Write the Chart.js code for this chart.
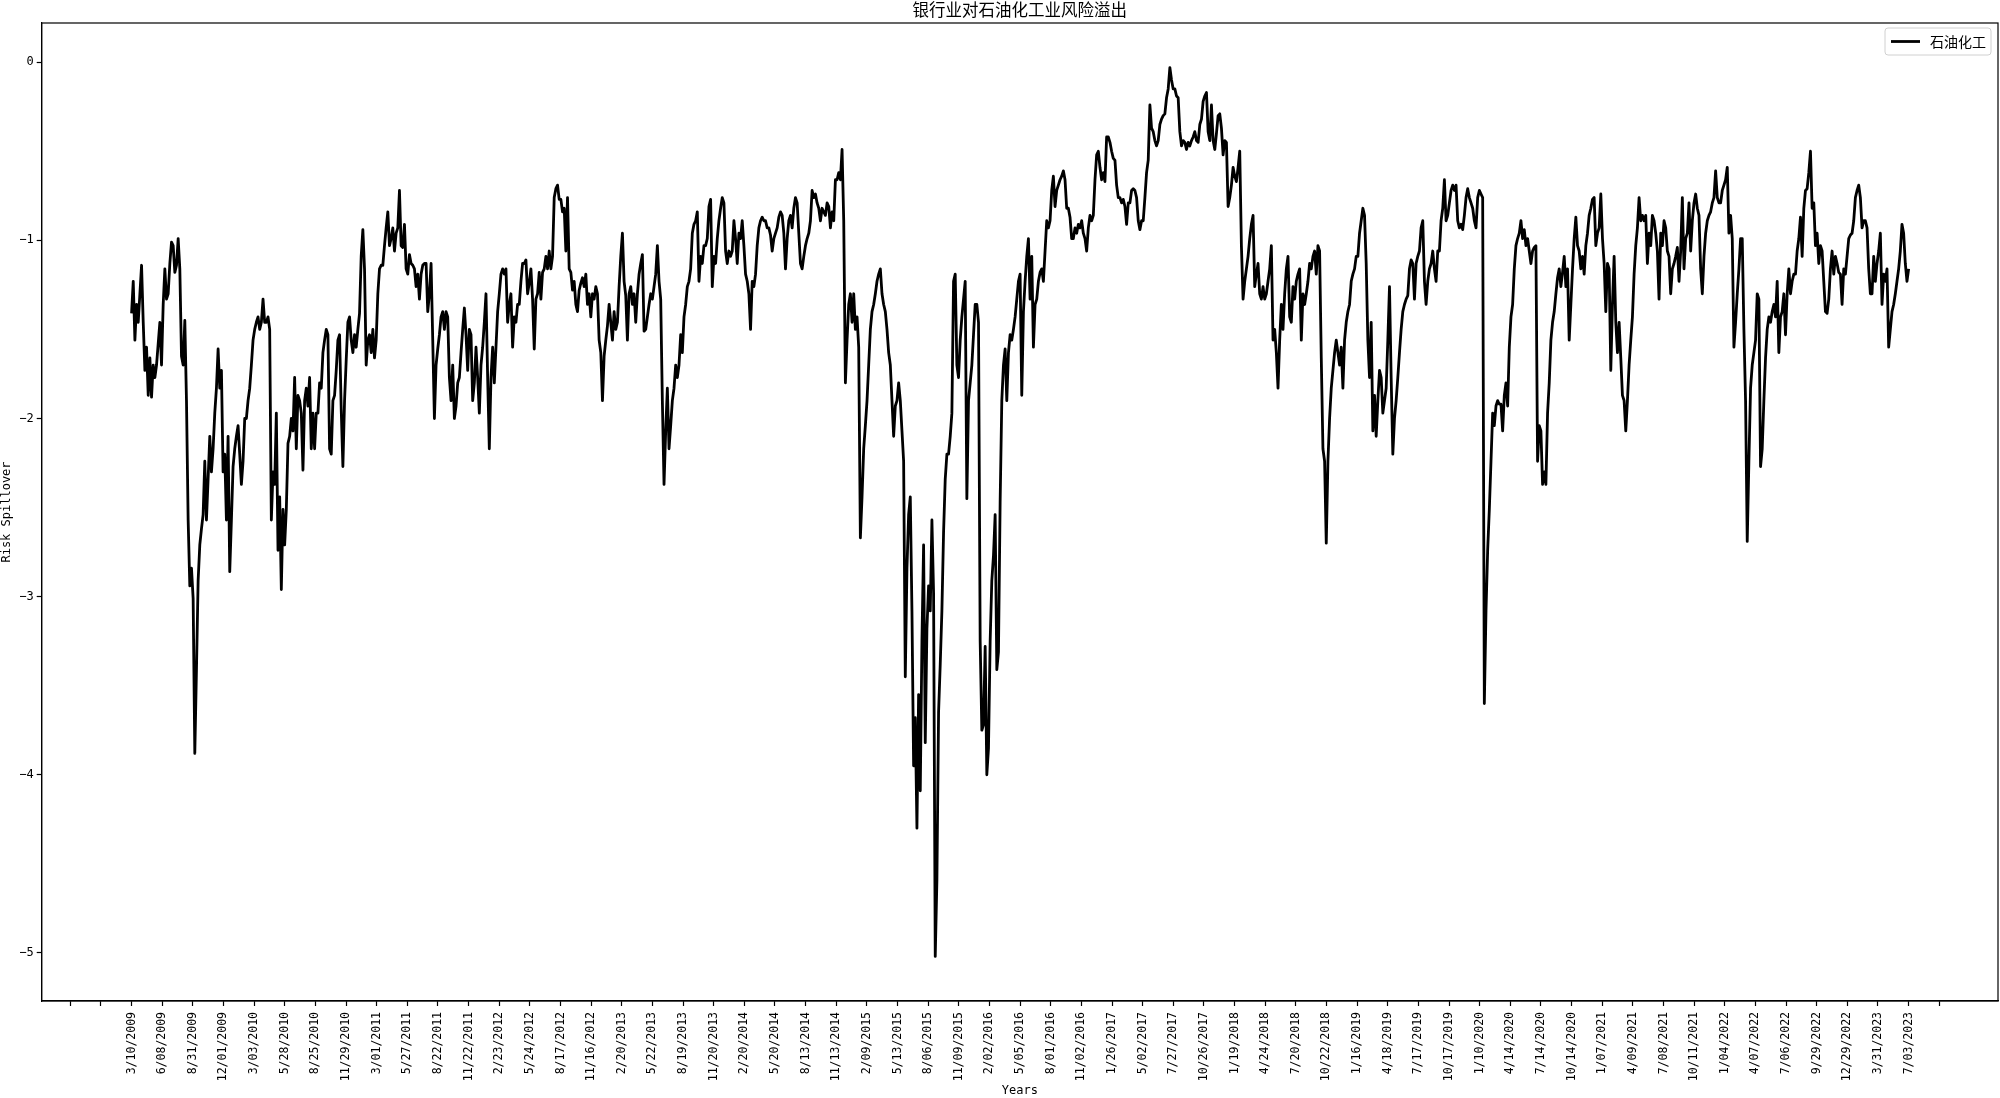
<!DOCTYPE html>
<html>
<head>
<meta charset="utf-8">
<script src="https://cdn.jsdelivr.net/npm/chart.js@4.4.1/dist/chart.umd.min.js"></script>
<style>
  html, body { margin: 0; padding: 0; background: #fff; }
  #wrap { width: 2000px; height: 1098px; }
</style>
</head>
<body>
<div id="wrap"><canvas id="chart" width="2000" height="1098"></canvas></div>
<script>
// --- texts ---
const CHART_TITLE = '银行业对石油化工业风险溢出';
const SERIES_NAME = '石油化工';
const X_TITLE = 'Years';
const Y_TITLE = 'Risk Spillover';

// --- tick labels (one label every 60 trading days) ---
const dateLabels = [
  '3/10/2009', '6/08/2009', '8/31/2009', '12/01/2009',
  '3/03/2010', '5/28/2010', '8/25/2010', '11/29/2010',
  '3/01/2011', '5/27/2011', '8/22/2011', '11/22/2011',
  '2/23/2012', '5/24/2012', '8/17/2012', '11/16/2012',
  '2/20/2013', '5/22/2013', '8/19/2013', '11/20/2013',
  '2/20/2014', '5/20/2014', '8/13/2014', '11/13/2014',
  '2/09/2015', '5/13/2015', '8/06/2015', '11/09/2015',
  '2/02/2016', '5/05/2016', '8/01/2016', '11/02/2016',
  '1/26/2017', '5/02/2017', '7/27/2017', '10/26/2017',
  '1/19/2018', '4/24/2018', '7/20/2018', '10/22/2018',
  '1/16/2019', '4/18/2019', '7/17/2019', '10/17/2019',
  '1/10/2020', '4/14/2020', '7/14/2020', '10/14/2020',
  '1/07/2021', '4/09/2021', '7/08/2021', '10/11/2021',
  '1/04/2022', '4/07/2022', '7/06/2022', '9/29/2022',
  '12/29/2022', '3/31/2023', '7/03/2023'
];
const LABEL_EVERY = 60;  // trading days between two labels
const LAST_DAY = 3480;   // index of the last observation (7/03/2023)
const yTicks = [0, -1, -2, -3, -4, -5];

// --- risk spillover (one reading every ~3 trading days) ---
const spill0910 = [
  -1.41,-1.23,-1.56,-1.36,-1.46,-1.30,-1.14,-1.46,-1.73,-1.60,
  -1.87,-1.66,-1.88,-1.70,-1.77,-1.70,-1.58,-1.46,-1.70,-1.36,
  -1.16,-1.33,-1.30,-1.13,-1.01,-1.03,-1.18,-1.14,-0.99,-1.16,
  -1.65,-1.70,-1.45,-1.90,-2.57,-2.94,-2.84,-3.01,-3.88,-3.41,
  -2.91,-2.71,-2.62,-2.54,-2.24,-2.57,-2.34,-2.10,-2.30,-2.17,
  -1.97,-1.83,-1.61,-1.83,-1.73,-2.30,-2.20,-2.57,-2.10,-2.86,
  -2.57,-2.27,-2.17,-2.10,-2.04,-2.20,-2.37,-2.24,-2.00,-2.00,
  -1.90,-1.83,-1.70,-1.56,-1.50,-1.46,-1.43,-1.50,-1.46,-1.33,
  -1.46,-1.46,-1.43,-1.50,-2.57,-2.30,-2.37,-1.97,-2.74,-2.44,
  -2.96,-2.51,-2.71,-2.51,-2.14,-2.10,-2.00,-2.07,-1.77,-2.17,
  -1.87,-1.90,-1.97,-2.29,-1.90,-1.83,-1.93,-1.77,-2.17,-1.97,
  -2.17,-1.97,-1.97,-1.80,-1.83,-1.63,-1.56,-1.50,-1.53,-2.17,
  -2.20,-1.90,-1.87,-1.73,-1.56,-1.53
];
const spill1012 = [
  -1.95,-2.27,-1.90,-1.67,-1.46,-1.43,-1.56,-1.63,-1.53,-1.60,
  -1.50,-1.41,-1.09,-0.94,-1.16,-1.70,-1.56,-1.53,-1.63,-1.50,
  -1.66,-1.56,-1.30,-1.16,-1.14,-1.14,-1.03,-0.93,-0.84,-1.03,
  -0.99,-0.93,-1.06,-0.96,-0.93,-0.72,-1.03,-1.04,-0.91,-1.16,
  -1.19,-1.08,-1.13,-1.14,-1.16,-1.26,-1.19,-1.33,-1.19,-1.14,
  -1.13,-1.13,-1.40,-1.30,-1.13,-1.56,-2.00,-1.70,-1.61,-1.53,
  -1.43,-1.40,-1.50,-1.40,-1.43,-1.77,-1.90,-1.70,-2.00,-1.93,
  -1.80,-1.77,-1.63,-1.50,-1.38,-1.53,-1.73,-1.50,-1.53,-1.90,
  -1.80,-1.60,-1.77,-1.97,-1.70,-1.60,-1.46,-1.30,-1.77,-2.17,
  -1.77,-1.60,-1.80,-1.60,-1.40,-1.30,-1.19,-1.16,-1.19,-1.16,
  -1.46,-1.36,-1.30,-1.60,-1.43,-1.46,-1.36,-1.36,-1.23,-1.13,
  -1.13,-1.11,-1.30,-1.24,-1.16,-1.33,-1.61,-1.33,-1.30,-1.18,
  -1.33,-1.18,-1.16,-1.09,-1.16,-1.06,-1.16,-1.09,-0.76,-0.71,
  -0.69,-0.77
];
const spill1214 = [
  -0.77,-0.84,-0.82,-1.06,-0.76,-1.16,-1.18,-1.28,-1.23,-1.36,
  -1.40,-1.28,-1.24,-1.21,-1.26,-1.19,-1.36,-1.30,-1.43,-1.30,
  -1.33,-1.26,-1.30,-1.56,-1.63,-1.90,-1.65,-1.56,-1.48,-1.36,
  -1.46,-1.56,-1.40,-1.50,-1.46,-1.26,-1.09,-0.96,-1.23,-1.31,
  -1.56,-1.30,-1.26,-1.36,-1.30,-1.46,-1.30,-1.19,-1.13,-1.08,
  -1.51,-1.50,-1.43,-1.36,-1.30,-1.33,-1.26,-1.19,-1.03,-1.23,
  -1.33,-1.90,-2.37,-2.07,-1.83,-2.17,-2.04,-1.90,-1.83,-1.70,
  -1.77,-1.70,-1.53,-1.63,-1.43,-1.36,-1.26,-1.23,-1.16,-0.96,
  -0.91,-0.89,-0.84,-1.23,-1.09,-1.13,-1.03,-1.03,-0.99,-0.81,
  -0.77,-1.26,-1.09,-1.13,-0.99,-0.89,-0.82,-0.76,-0.79,-1.06,
  -1.13,-1.06,-1.09,-1.06,-0.89,-0.99,-1.13,-0.96,-0.99,-0.89,
  -1.03,-1.19,-1.23,-1.30,-1.50,-1.23,-1.26,-1.19,-1.03,-0.93,
  -0.89,-0.87,-0.89,-0.89,-0.93,-0.93,-0.97,-1.06,-0.99,-0.96,
  -0.93,-0.87
];
const spill1416 = [
  -0.84,-0.86,-0.96,-1.16,-0.99,-0.89,-0.86,-0.93,-0.82,-0.76,
  -0.79,-0.96,-1.13,-1.16,-1.09,-1.03,-0.99,-0.96,-0.89,-0.72,
  -0.76,-0.74,-0.79,-0.82,-0.89,-0.82,-0.84,-0.86,-0.79,-0.81,
  -0.93,-0.84,-0.89,-0.66,-0.66,-0.62,-0.66,-0.49,-0.89,-1.80,
  -1.56,-1.36,-1.30,-1.46,-1.30,-1.50,-1.43,-1.60,-2.67,-2.44,
  -2.17,-2.04,-1.90,-1.70,-1.50,-1.40,-1.36,-1.30,-1.23,-1.19,
  -1.16,-1.30,-1.36,-1.40,-1.50,-1.63,-1.70,-1.90,-2.10,-1.93,
  -1.90,-1.80,-1.90,-2.07,-2.24,-3.45,-2.84,-2.54,-2.44,-3.08,
  -3.95,-3.68,-4.30,-3.55,-4.09,-3.25,-2.71,-3.82,-3.18,-2.94,
  -3.08,-2.57,-2.98,-5.02,-4.59,-3.65,-3.38,-3.08,-2.64,-2.34,
  -2.20,-2.20,-2.10,-1.97,-1.23,-1.19,-1.70,-1.77,-1.56,-1.43,
  -1.33,-1.23,-2.45,-1.90,-1.80,-1.70,-1.53,-1.36,-1.36,-1.46,
  -3.25,-3.75,-3.72,-3.28,-4.00,-3.85,-3.25,-2.91,-2.77,-2.54,
  -3.41,-3.31
];
const spill1617 = [
  -2.47,-1.90,-1.70,-1.61,-1.90,-1.63,-1.53,-1.56,-1.50,-1.43,
  -1.33,-1.23,-1.19,-1.87,-1.40,-1.23,-1.09,-0.99,-1.33,-1.09,
  -1.60,-1.36,-1.33,-1.23,-1.18,-1.16,-1.23,-1.06,-0.89,-0.93,
  -0.89,-0.72,-0.64,-0.81,-0.72,-0.69,-0.66,-0.64,-0.61,-0.66,
  -0.82,-0.82,-0.87,-0.99,-0.99,-0.93,-0.96,-0.91,-0.93,-0.89,
  -0.96,-0.99,-1.06,-0.93,-0.86,-0.89,-0.86,-0.66,-0.52,-0.50,
  -0.59,-0.66,-0.62,-0.67,-0.42,-0.42,-0.45,-0.50,-0.54,-0.55,
  -0.69,-0.76,-0.76,-0.79,-0.77,-0.81,-0.91,-0.79,-0.79,-0.72,
  -0.71,-0.72,-0.76,-0.89,-0.94,-0.89,-0.89,-0.76,-0.62,-0.55,
  -0.24,-0.37,-0.39,-0.44,-0.47,-0.44,-0.35,-0.32,-0.30,-0.29,
  -0.20,-0.15,-0.03,-0.10,-0.15,-0.15,-0.19,-0.20,-0.39,-0.47,
  -0.44,-0.45,-0.49,-0.45,-0.47,-0.44,-0.42,-0.39,-0.44,-0.45,
  -0.35,-0.32,-0.22,-0.19,-0.17,-0.39,-0.44,-0.24,-0.44,-0.49,
  -0.40,-0.30
];
const spill1719 = [
  -0.29,-0.37,-0.52,-0.44,-0.45,-0.81,-0.76,-0.69,-0.59,-0.64,
  -0.67,-0.59,-0.50,-1.03,-1.33,-1.23,-1.16,-1.09,-0.99,-0.91,
  -0.86,-1.26,-1.19,-1.13,-1.30,-1.33,-1.26,-1.33,-1.30,-1.23,
  -1.16,-1.03,-1.56,-1.50,-1.63,-1.83,-1.56,-1.36,-1.50,-1.30,
  -1.16,-1.09,-1.43,-1.46,-1.26,-1.33,-1.23,-1.19,-1.16,-1.56,
  -1.30,-1.36,-1.30,-1.23,-1.13,-1.16,-1.09,-1.06,-1.19,-1.03,
  -1.06,-1.66,-2.17,-2.24,-2.70,-2.24,-2.00,-1.83,-1.73,-1.63,
  -1.56,-1.63,-1.70,-1.60,-1.83,-1.56,-1.46,-1.40,-1.36,-1.23,
  -1.19,-1.16,-1.09,-1.09,-0.96,-0.89,-0.82,-0.86,-1.13,-1.56,
  -1.77,-1.46,-2.07,-1.87,-2.10,-1.90,-1.73,-1.77,-1.97,-1.90,
  -1.83,-1.56,-1.26,-1.77,-2.20,-2.00,-1.90,-1.77,-1.63,-1.50,
  -1.40,-1.36,-1.33,-1.31,-1.16,-1.11,-1.13,-1.33,-1.13,-1.09,
  -1.06,-0.93,-0.89,-1.23,-1.36,-1.23,-1.16,-1.13,-1.06,-1.16,
  -1.23,-1.06
];
const spill1921 = [
  -1.06,-0.89,-0.82,-0.66,-0.89,-0.86,-0.79,-0.72,-0.69,-0.72,
  -0.69,-0.89,-0.93,-0.91,-0.94,-0.86,-0.76,-0.71,-0.76,-0.79,
  -0.82,-0.89,-0.93,-0.76,-0.72,-0.74,-0.76,-3.60,-3.08,-2.74,
  -2.51,-2.24,-1.97,-2.04,-1.93,-1.90,-1.92,-1.92,-2.07,-1.87,
  -1.80,-1.93,-1.60,-1.43,-1.36,-1.16,-1.03,-0.99,-0.96,-0.89,
  -0.99,-0.94,-1.03,-0.99,-1.06,-1.13,-1.06,-1.04,-1.03,-2.24,
  -2.04,-2.07,-2.37,-2.30,-2.37,-1.97,-1.80,-1.56,-1.46,-1.40,
  -1.30,-1.21,-1.16,-1.26,-1.18,-1.09,-1.26,-1.16,-1.56,-1.36,
  -1.16,-0.99,-0.87,-1.03,-1.06,-1.16,-1.09,-1.19,-1.03,-0.96,
  -0.86,-0.82,-0.77,-0.76,-1.03,-0.96,-0.93,-0.74,-0.99,-1.13,
  -1.40,-1.13,-1.16,-1.73,-1.36,-1.09,-1.46,-1.63,-1.46,-1.66,
  -1.87,-1.90,-2.07,-1.90,-1.70,-1.56,-1.43,-1.19,-1.03,-0.93,
  -0.76,-0.89,-0.86,-0.89,-0.86,-1.13,-0.96,-1.03,-0.86,-0.89,
  -0.96,-1.06
];
const spill2123 = [
  -1.33,-0.96,-1.03,-0.89,-0.93,-1.06,-1.09,-1.30,-1.16,-1.13,
  -1.09,-1.04,-1.23,-1.06,-0.76,-1.16,-0.99,-0.96,-0.79,-1.06,
  -0.89,-0.79,-0.74,-0.82,-0.86,-1.16,-1.30,-1.09,-0.96,-0.89,
  -0.86,-0.84,-0.79,-0.76,-0.61,-0.76,-0.79,-0.79,-0.72,-0.69,
  -0.66,-0.59,-0.96,-0.86,-0.99,-1.60,-1.46,-1.30,-1.16,-0.99,
  -0.99,-1.50,-1.90,-2.69,-2.24,-1.83,-1.70,-1.63,-1.56,-1.30,
  -1.33,-2.27,-2.17,-1.90,-1.66,-1.50,-1.43,-1.46,-1.40,-1.36,
  -1.43,-1.23,-1.63,-1.43,-1.40,-1.30,-1.53,-1.30,-1.16,-1.30,
  -1.23,-1.19,-1.19,-1.06,-0.99,-0.87,-1.09,-0.82,-0.72,-0.71,
  -0.62,-0.50,-0.82,-0.79,-1.03,-0.96,-1.13,-1.03,-1.06,-1.23,
  -1.40,-1.41,-1.33,-1.16,-1.06,-1.19,-1.09,-1.13,-1.18,-1.19,
  -1.36,-1.16,-1.19,-1.09,-0.99,-0.97,-0.96,-0.89,-0.76,-0.72,
  -0.69,-0.76,-0.93,-0.89,-0.89,-0.93,-1.16,-1.30,-1.30,-1.09,
  -1.23,-1.13,-1.06,-0.96,-1.36,-1.19,-1.23,-1.16,-1.60,-1.50,
  -1.40,-1.36,-1.30,-1.23,-1.16,-1.06,-0.91,-0.96,-1.13,-1.23,
  -1.16
];

const spill = [].concat(spill0910, spill1012, spill1214, spill1416,
                        spill1617, spill1719, spill1921, spill2123);

// readings are evenly spaced over the trading-day index
const STEP = LAST_DAY / (spill.length - 1);
const points = spill.map((v, i) => ({ x: i * STEP, y: v }));

// ticks every 60 days, two empty ones before the first label and one after the last
const xTickValues = [];
for (let d = -2 * LABEL_EVERY; d <= LAST_DAY + LABEL_EVERY; d += LABEL_EVERY) xTickValues.push(d);

function labelFor(v) {
  const k = Math.round(v / LABEL_EVERY);
  return (k >= 0 && k < dateLabels.length) ? dateLabels[k] : '';
}

const MONO = "'DejaVu Sans Mono', monospace";
const CJK = "'Noto Sans CJK SC', 'Noto Sans', sans-serif";

// --- frame, title and legend (matplotlib look) ---
const decor = {
  id: 'decor',
  afterDatasetsDraw(chart) {
    const { ctx, chartArea: a } = chart;
    ctx.save();
    // spines on all four sides
    ctx.strokeStyle = '#000';
    ctx.lineWidth = 1.2;
    ctx.strokeRect(a.left, a.top, a.right - a.left, a.bottom - a.top);

    // title centered over the plot area
    ctx.fillStyle = '#000';
    ctx.font = '16.5px ' + CJK;
    ctx.textAlign = 'center';
    ctx.textBaseline = 'middle';
    ctx.fillText(CHART_TITLE, (a.left + a.right) / 2, 10);

    // legend in the upper right corner
    const bw = 106, bh = 27;
    const bx = a.right - 7 - bw, by = a.top + 5;
    ctx.beginPath();
    if (ctx.roundRect) ctx.roundRect(bx, by, bw, bh, 3);
    else ctx.rect(bx, by, bw, bh);
    ctx.fillStyle = 'rgba(255,255,255,0.8)';
    ctx.fill();
    ctx.strokeStyle = '#d0d0d0';
    ctx.lineWidth = 1;
    ctx.stroke();

    const ly = by + bh / 2;
    ctx.beginPath();
    ctx.moveTo(bx + 6, ly);
    ctx.lineTo(bx + 35, ly);
    ctx.strokeStyle = '#000';
    ctx.lineWidth = 2.8;
    ctx.stroke();

    ctx.fillStyle = '#000';
    ctx.font = '14px ' + CJK;
    ctx.textAlign = 'left';
    ctx.fillText(chart.data.datasets[0].label, bx + 45, ly);
    ctx.restore();
  }
};

const axisGrid = {
  display: true,
  drawOnChartArea: false,
  drawTicks: true,
  tickLength: 5,
  tickColor: '#000',
  tickWidth: 1.2
};
const axisBorder = { display: true, color: '#000', width: 1.2 };

new Chart(document.getElementById('chart').getContext('2d'), {
  type: 'line',
  data: {
    datasets: [{
      label: SERIES_NAME,
      data: points,
      borderColor: '#000',
      borderWidth: 2.8,
      borderJoinStyle: 'round',
      pointRadius: 0,
      tension: 0,
      fill: false
    }]
  },
  options: {
    responsive: false,
    animation: false,
    layout: { padding: { top: 23, right: 2, bottom: 0, left: 0 } },
    plugins: {
      legend: { display: false },
      title: { display: false },
      tooltip: { enabled: false }
    },
    scales: {
      x: {
        type: 'linear',
        min: -176,
        max: 3655,
        afterBuildTicks: s => { s.ticks = xTickValues.map(v => ({ value: v })); },
        afterFit: s => { s.height = 97; },
        ticks: {
          autoSkip: false,
          minRotation: 90,
          maxRotation: 90,
          padding: 6,
          color: '#000',
          font: { family: MONO, size: 11.5 },
          callback: v => labelFor(v)
        },
        grid: axisGrid,
        border: axisBorder,
        title: { display: true, text: X_TITLE, color: '#000', font: { family: MONO, size: 12 }, padding: 0 }
      },
      y: {
        type: 'linear',
        min: -5.27,
        max: 0.22,
        afterBuildTicks: s => { s.ticks = yTicks.map(v => ({ value: v })); },
        afterFit: s => { s.width = 41.7; },
        ticks: {
          padding: 3,
          color: '#000',
          font: { family: MONO, size: 12 },
          callback: v => String(v).replace('-', '\u2212')
        },
        grid: axisGrid,
        border: axisBorder,
        title: { display: true, text: Y_TITLE, color: '#000', font: { family: MONO, size: 12 }, padding: 0 }
      }
    }
  },
  plugins: [decor]
});
</script>
</body>
</html>
